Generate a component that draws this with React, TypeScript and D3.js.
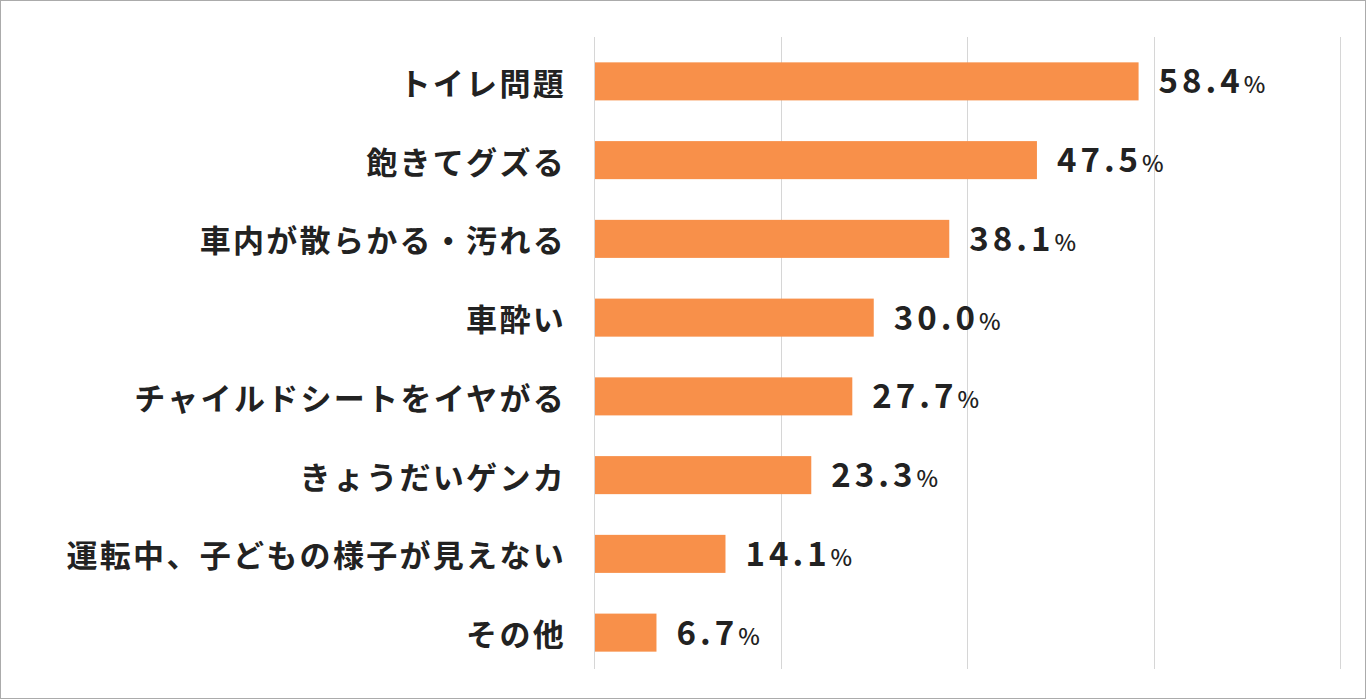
import React from "react";
import * as d3 from "d3";

const categories = [
  "トイレ問題",
  "飽きてグズる",
  "車内が散らかる・汚れる",
  "車酔い",
  "チャイルドシートをイヤがる",
  "きょうだいゲンカ",
  "運転中、子どもの様子が見えない",
  "その他",
];
const values = [58.4, 47.5, 38.1, 30.0, 27.7, 23.3, 14.1, 6.7];
const gridTicks = [0, 20, 40, 60, 80];

const W = 1366;
const H = 699;
const FONT = "'Noto Sans CJK JP', 'Noto Sans', sans-serif";

export default function App() {
  const x = d3.scaleLinear().domain([0, 80]).range([594, 1340]);
  const y = d3
    .scaleBand<string>()
    .domain(categories)
    .range([42, 672])
    .paddingInner(0.517)
    .paddingOuter(0.2585);
  const bw = y.bandwidth();
  return (
    <div style={{ position: "absolute", left: 0, top: 0 }}>
      <svg width={W} height={H} style={{ display: "block" }}>
        <rect x={0.5} y={0.5} width={W - 1} height={H - 1} fill="#fff" stroke="#ababab" strokeWidth={1} />
        {gridTicks.map((t) => (
          <line
            key={t}
            x1={Math.round(x(t)) + 0.5}
            x2={Math.round(x(t)) + 0.5}
            y1={37}
            y2={669}
            stroke="#d6d6d6"
            strokeWidth={1}
          />
        ))}
        {categories.map((c, i) => {
          const yy = y(c)!;
          const cy = yy + bw / 2;
          return (
            <g key={c}>
              <rect x={x(0) + 1} y={yy} width={x(values[i]) - x(0) - 1} height={bw} fill="#f8904a" />
              <text
                x={566}
                y={cy}
                textAnchor="end"
                dominantBaseline="central"
                fontFamily={FONT}
                fontWeight={700}
                fontSize={31}
                fill="#222"
                style={{ letterSpacing: "2.3px" }}
              >
                {c}
              </text>
              <text
                x={x(values[i]) + 20}
                y={cy + 12}
                fontFamily={FONT}
                fontWeight={700}
                fill="#222"
              >
                <tspan fontSize={33} style={{ letterSpacing: "4px" }}>
                  {values[i].toFixed(1)}
                </tspan>
                <tspan fontSize={23} fontWeight={500} style={{ letterSpacing: "0px" }}>%</tspan>
              </text>
            </g>
          );
        })}
      </svg>
    </div>
  );
}
